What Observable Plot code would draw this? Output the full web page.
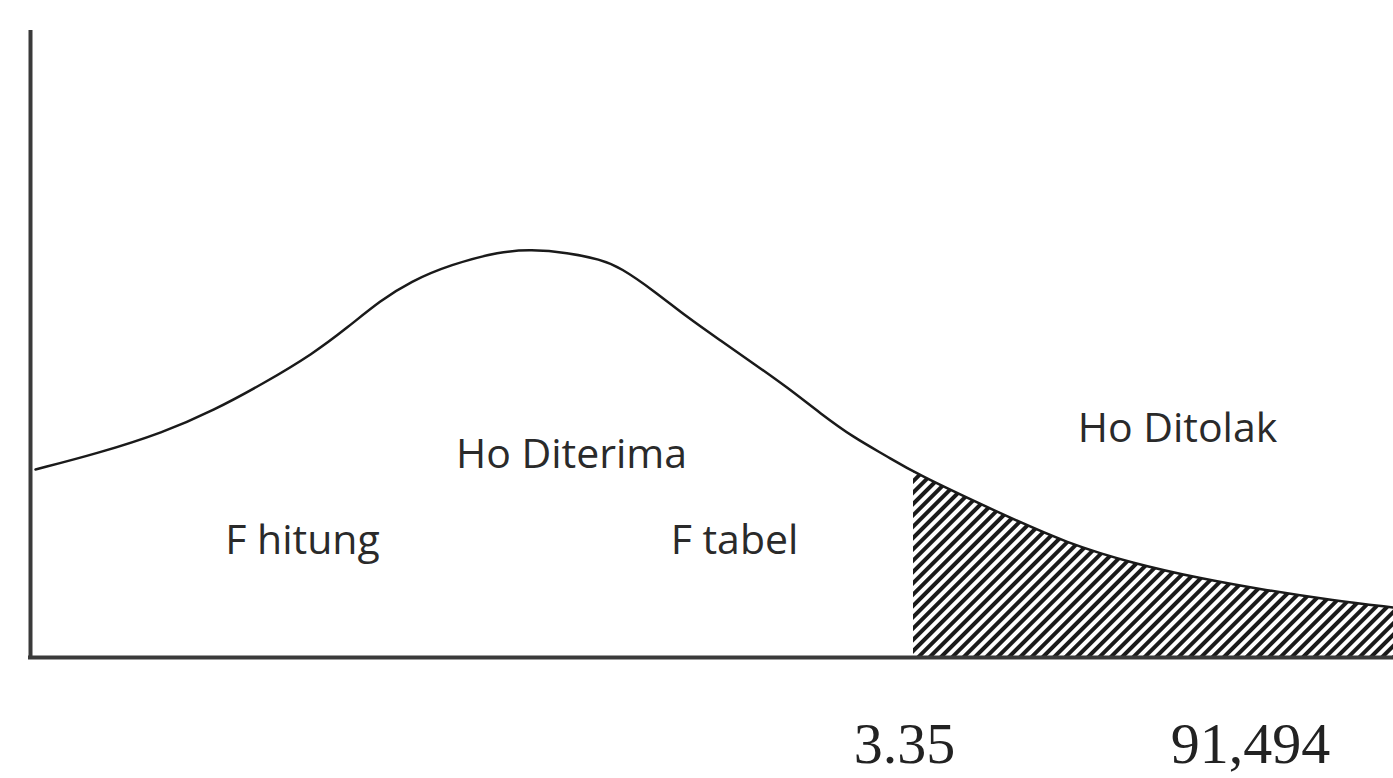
<!DOCTYPE html>
<html>
<head>
<meta charset="utf-8">
<script src="https://cdn.jsdelivr.net/npm/d3@7"></script>
<script src="https://cdn.jsdelivr.net/npm/@observablehq/plot@0.6"></script>
<style>
  html, body { margin: 0; padding: 0; background: #fff; }
  #chart svg { display: block; }
</style>
</head>
<body>
<div id="chart"></div>
<script>
// Curve (x: units from origin, y: height above the x-axis)
const curveX = [5, 67, 133, 183, 233, 283, 317, 350, 380, 420, 470, 500, 537, 570, 590, 623, 657, 690, 723, 757, 790, 823, 857, 883, 970, 1037, 1103, 1170, 1237, 1303, 1363];
const curveY = [188, 204, 225, 247, 274, 304, 330, 357, 376, 393, 406, 408, 405, 398, 390, 367, 340, 317, 294, 270, 244, 220, 201, 185, 144, 114, 94, 79, 67, 57, 50];
const criticalX = 883;          // start of rejection region (F tabel)
const regionLabels = ["Ho Diterima", "Ho Ditolak", "F hitung", "F tabel"];
const regionLabelX = [541, 1147, 272, 704];
const regionLabelY = [190, 216, 104, 104];
const tickLabels = ["3.35", "91,494"];
const tickLabelX = [874, 1220];

const curve = curveX.map((x, i) => ({x, y: curveY[i]}));
const tail = curve.filter(d => d.x >= criticalX);
const labels = regionLabels.map((t, i) => ({t, x: regionLabelX[i], y: regionLabelY[i]}));
const ticks = tickLabels.map((t, i) => ({t, x: tickLabelX[i]}));

const chart = Plot.plot({
  width: 1393,
  height: 778,
  margin: 0,
  x: {domain: [0, 1363], range: [30, 1393], axis: null},
  y: {domain: [0, 627], range: [657, 30], axis: null},
  marks: [
    Plot.areaY(tail, {x: "x", y: "y", curve: "basis", fill: "url(#hatch)"}),
    Plot.line(curve, {x: "x", y: "y", curve: "basis", stroke: "#1a1a1a", strokeWidth: 2.5}),
    Plot.ruleX([0], {y1: 0, y2: 627, stroke: "#3a3a3a", strokeWidth: 4}),
    Plot.ruleY([0], {x1: -2, x2: 1363, stroke: "#3a3a3a", strokeWidth: 4}),
    Plot.text(labels, {x: "x", y: "y", text: "t", fontFamily: "Open Sans", fontSize: 41, fill: "#2a2a2a", textAnchor: "middle", lineAnchor: "bottom"}),
    Plot.text(ticks, {x: "x", y: -105, text: "t", fontFamily: "Liberation Serif", fontSize: 58, fill: "#222", textAnchor: "middle", lineAnchor: "bottom"})
  ]
});

const svg = d3.select(chart);
const defs = svg.insert("defs", ":first-child");
const pat = defs.append("pattern")
  .attr("id", "hatch")
  .attr("patternUnits", "userSpaceOnUse")
  .attr("width", 8)
  .attr("height", 8)
  .attr("patternTransform", "rotate(45)");
pat.append("rect").attr("width", 8).attr("height", 8).attr("fill", "#fff");
pat.append("rect").attr("width", 4).attr("height", 8).attr("fill", "#1a1a1a");

document.getElementById("chart").appendChild(chart);
</script>
</body>
</html>
